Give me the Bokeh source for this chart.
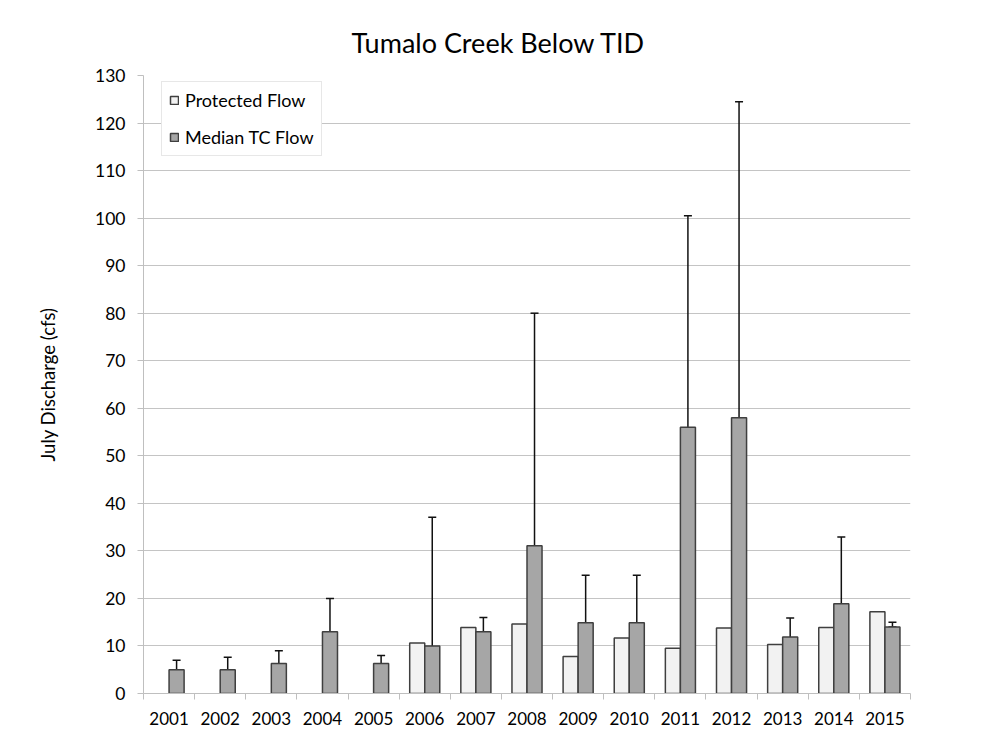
from bokeh.plotting import figure
from bokeh.models import (ColumnDataSource, Whisker, TeeHead, FixedTicker, Legend,
                          LegendItem, Range1d)
from bokeh.embed import file_html
from bokeh.resources import INLINE

# ---- data ----
years = ["2001", "2002", "2003", "2004", "2005", "2006", "2007", "2008",
         "2009", "2010", "2011", "2012", "2013", "2014", "2015"]
protected_flow = [None, None, None, None, None, 10.6, 13.9, 14.6, 7.8, 11.7,
                  9.5, 13.8, 10.3, 13.9, 17.2]
median_tc_flow = [5.0, 5.0, 6.3, 13.0, 6.3, 10.0, 13.0, 31.1, 14.9, 14.9,
                  56.0, 58.0, 11.9, 18.9, 14.0]
err_upper = [7.0, 7.6, 9.0, 20.0, 8.0, 37.1, 16.0, 80.0, 24.9, 24.9,
             100.5, 124.5, 15.9, 32.9, 15.0]
err_lower = [4.0, 3.3, 4.3, 7.3, 5.1, 7.6, 10.5, 21.9, 10.9, 13.0,
             43.0, 30.0, 10.0, 15.5, 14.0]

FONT = "Lato"
BAR_W = 0.294

centers = [i + 0.5 for i in range(len(years))]

prot_src = ColumnDataSource(dict(
    x=[c - BAR_W / 2 for c, v in zip(centers, protected_flow) if v is not None],
    top=[v for v in protected_flow if v is not None],
))
med_src = ColumnDataSource(dict(
    x=[c + BAR_W / 2 for c in centers],
    top=median_tc_flow,
    upper=err_upper,
    lower=err_lower,
))

W, H = 998, 732
p = figure(width=W, height=H,
           x_range=Range1d(0, len(years)), y_range=Range1d(0, 130),
           output_backend="svg", toolbar_location=None,
           min_border_left=143, min_border_right=W - 910,
           min_border_top=75, min_border_bottom=H - 693)

p.outline_line_color = None
p.background_fill_color = "white"
p.border_fill_color = "white"

# title
p.title.text = "Tumalo Creek Below TID"
p.title.align = "left"
p.title.text_font = FONT
p.title.text_font_size = "27px"
p.title.text_font_style = "normal"
p.title.text_color = "#000000"
p.title.standoff = 33
p.title.offset = 208

# bars
r_prot = p.vbar(x="x", top="top", width=BAR_W, bottom=0, source=prot_src,
                fill_color="#f2f2f2", line_color="#3f3f3f", line_width=1.5)
r_med = p.vbar(x="x", top="top", width=BAR_W, bottom=0, source=med_src,
               fill_color="#a6a6a6", line_color="#3f3f3f", line_width=1.5)

# error bars
w = Whisker(base="x", upper="upper", lower="lower", source=med_src,
            line_color="#111111", line_width=1.5,
            upper_head=TeeHead(size=8, line_color="#111111", line_width=1.5),
            lower_head=TeeHead(size=8, line_color="#111111", line_width=1.5))
p.add_layout(w)

# axes
xa = p.xaxis[0]
xa.ticker = FixedTicker(ticks=centers, minor_ticks=list(range(len(years) + 1)))
xa.major_label_overrides = {c: y for c, y in zip(centers, years)}
xa.major_tick_out = 0
xa.major_tick_in = 0
xa.minor_tick_out = 6
xa.minor_tick_in = 0
xa.minor_tick_line_color = "#bfbfbf"
xa.axis_line_color = "#bfbfbf"
xa.major_label_text_font = FONT
xa.major_label_text_font_size = "17px"
xa.major_label_text_color = "#000000"
xa.major_label_standoff = 12

ya = p.yaxis[0]
ya.ticker = FixedTicker(ticks=list(range(0, 131, 10)))
ya.major_tick_out = 6
ya.major_tick_in = 0
ya.minor_tick_out = 0
ya.minor_tick_in = 0
ya.major_tick_line_color = "#bfbfbf"
ya.axis_line_color = "#bfbfbf"
ya.major_label_text_font = FONT
ya.major_label_text_font_size = "17.5px"
ya.major_label_text_color = "#000000"
ya.major_label_standoff = 12
ya.axis_label = "July Discharge (cfs)"
ya.axis_label_text_font = FONT
ya.axis_label_text_font_size = "18.5px"
ya.axis_label_text_font_style = "normal"
ya.axis_label_text_color = "#000000"
ya.axis_label_standoff = 33

p.xgrid.grid_line_color = None
p.ygrid.ticker = FixedTicker(ticks=list(range(0, 131, 10)))
p.ygrid.grid_line_color = "#c4c4c4"
p.ygrid.grid_line_width = 1

# legend
legend = Legend(items=[LegendItem(label="Protected Flow", renderers=[r_prot]),
                       LegendItem(label="Median TC Flow", renderers=[r_med])],
                location=(18, 537))
legend.label_text_font = FONT
legend.label_text_font_size = "18px"
legend.label_text_color = "#000000"
legend.glyph_width = 10
legend.glyph_height = 10
legend.label_standoff = 6
legend.label_height = 20
legend.spacing = 15
legend.padding = 7
legend.margin = 0
legend.border_line_color = "#d0d0d0"
legend.border_line_width = 1
legend.background_fill_color = "white"
legend.background_fill_alpha = 1
p.add_layout(legend)

open("out.html", "w").write(file_html(p, INLINE))
